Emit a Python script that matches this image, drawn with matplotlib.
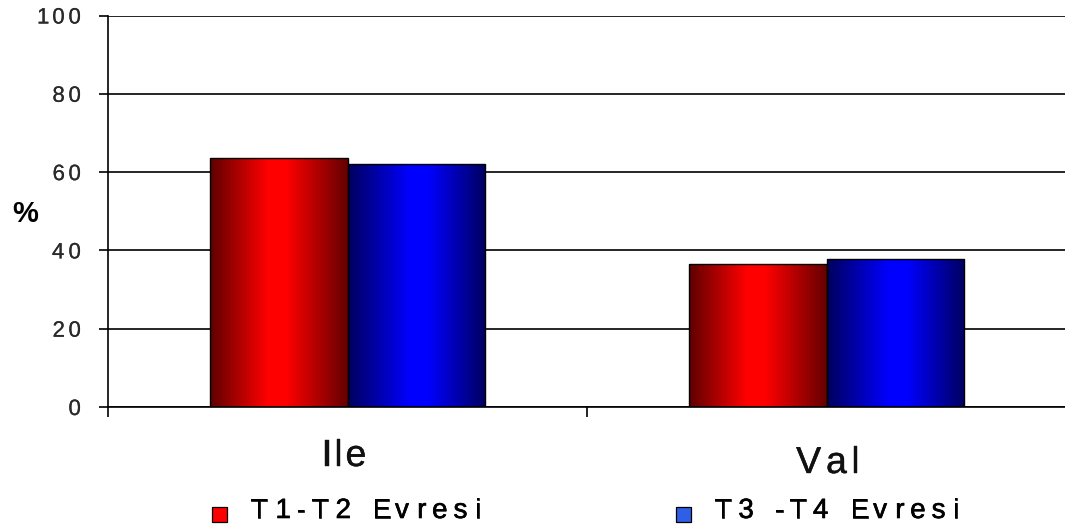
import matplotlib
matplotlib.use("Agg")
import numpy as np
import matplotlib.pyplot as plt
from matplotlib import transforms
from matplotlib import patheffects
from matplotlib.colors import LinearSegmentedColormap
from matplotlib.font_manager import FontProperties, findfont
from matplotlib.ft2font import FT2Font
from matplotlib.patches import Rectangle

# ---- data ----
categories = ["Ile", "Val"]
series_names = ["T1-T2 Evresi", "T3 -T4 Evresi"]
t1_t2 = [63.6, 36.4]
t3_t4 = [62.1, 37.7]
y_ticks = [0, 20, 40, 60, 80, 100]
y_tick_labels = ["0", "20", "40", "60", "80", "100"]
y_label = "%"

DPI = 100
W, H = 1065, 531
FAMILY = "Liberation Sans"

fig = plt.figure(figsize=(W / DPI, H / DPI), dpi=DPI, facecolor="white")


def px_box(left, top, right, bottom):
    return [left / W, 1 - bottom / H, (right - left) / W, (bottom - top) / H]


ax = fig.add_axes(px_box(108, 15.5, 1066, 407))

# ---- letter-spaced text helper ----
_font_cache = {}


def glyph_metrics(text, size, weight="normal"):
    key = (size, weight)
    if key not in _font_cache:
        path = findfont(FontProperties(family=FAMILY, weight=weight))
        f = FT2Font(path)
        f.set_size(size, DPI)
        _font_cache[key] = f
    f = _font_cache[key]
    out = []
    for c in text:
        g = f.load_char(ord(c))
        out.append((g.linearHoriAdvance / 65536.0, getattr(g, "horiBearingX", 0) / 64.0))
    return out


def tracked_text(x, y, s, transform, size, track, ha="left", dx=0.0, dy=0.0,
                 weight="normal", color="black", thicken=0.0):
    mets = glyph_metrics(s, size, weight)
    total = sum(a for a, _ in mets) + track * (len(s) - 1)
    pos = dx + {"left": 0.0, "center": -total / 2.0, "right": -total}[ha]
    effects = [patheffects.withStroke(linewidth=thicken, foreground=color)] if thicken else None
    for c, (adv, lsb) in zip(s, mets):
        if c != " ":
            tr = transforms.offset_copy(transform, fig=fig, x=pos + lsb, y=dy, units="dots")
            fig.text(x, y, c, transform=tr, ha="left", va="baseline", fontsize=size,
                     family=FAMILY, fontweight=weight, color=color, path_effects=effects)
        pos += adv + track


# ---- bars with horizontal shading ----
x = np.arange(len(categories))
bar_w = 0.288

red_cmap = LinearSegmentedColormap.from_list(
    "red_shade", [(0.0, "#5e0000"), (0.42, "#ff0000"), (0.55, "#ff0000"), (1.0, "#650000")])
blue_cmap = LinearSegmentedColormap.from_list(
    "blue_shade", [(0.0, "#00005e"), (0.45, "#0000ff"), (0.58, "#0000ff"), (1.0, "#000060")])

grad = np.linspace(0, 1, 256).reshape(1, -1)
for vals, offset, cmap in [(t1_t2, -bar_w / 2, red_cmap), (t3_t4, bar_w / 2, blue_cmap)]:
    bars = ax.bar(x + offset, vals, width=bar_w, facecolor="none",
                  edgecolor="black", linewidth=1.0, zorder=3)
    for b in bars:
        x0, y0 = b.get_x(), b.get_y()
        im = ax.imshow(grad, extent=[x0, x0 + b.get_width(), y0, y0 + b.get_height()],
                       cmap=cmap, aspect="auto", interpolation="bicubic", zorder=2)
        im.set_clip_path(b)

ax.set_xlim(-0.5, len(categories) - 0.5)
ax.set_ylim(0, 100)

# ---- axes styling ----
ax.set_axisbelow(True)
ax.yaxis.grid(True, color="black", linewidth=1.2)
for side in ("top", "right"):
    ax.spines[side].set_visible(False)
for side in ("left", "bottom"):
    ax.spines[side].set_linewidth(1.2)
    ax.spines[side].set_color("black")

ax.set_yticks(y_ticks)
ax.tick_params(axis="y", direction="out", length=6.5, width=1.2, labelleft=False)
ax.set_xticks([])
ax.set_xticks(np.arange(-0.5, len(categories)), minor=True)
ax.tick_params(axis="x", which="minor", direction="out", length=7, width=1.2, labelbottom=False)

# y tick labels
ytr = ax.get_yaxis_transform()
for v, lab in zip(y_ticks, y_tick_labels):
    tracked_text(0, v, lab, ytr, 16, 3.8, ha="right", dx=-28, dy=-8,
                 color="#2a2a2a", thicken=0.15)

# category labels
xtr = ax.get_xaxis_transform()
cat_offsets = [(-6, -59), (0, -66)]
for i, (cat, (odx, ody)) in enumerate(zip(categories, cat_offsets)):
    tracked_text(x[i], 0, cat, xtr, 27, 3.4, ha="center", dx=odx, dy=ody,
                 color="#111111", thicken=0.3)

# y axis title
fig.text(25 / W, 1 - 214.5 / H, y_label, ha="center", va="center", fontsize=21,
         fontweight="bold", family=FAMILY, color="black")

# ---- legend ----
legend_items = [
    (series_names[0], "#ff0000", 212, 250),
    (series_names[1], "#2f5fe6", 676, 714),
]
for name, col, sq_left, txt_left in legend_items:
    fig.add_artist(Rectangle((sq_left / W, 1 - 522 / H), 15 / W, 15 / H,
                             transform=fig.transFigure, facecolor=col,
                             edgecolor="black", linewidth=0.9))
    tracked_text(txt_left / W, 1 - 518 / H, name, fig.transFigure, 20, 6.4, ha="left",
                 thicken=0.45)

fig.savefig("out.png", dpi=DPI, facecolor="white")
